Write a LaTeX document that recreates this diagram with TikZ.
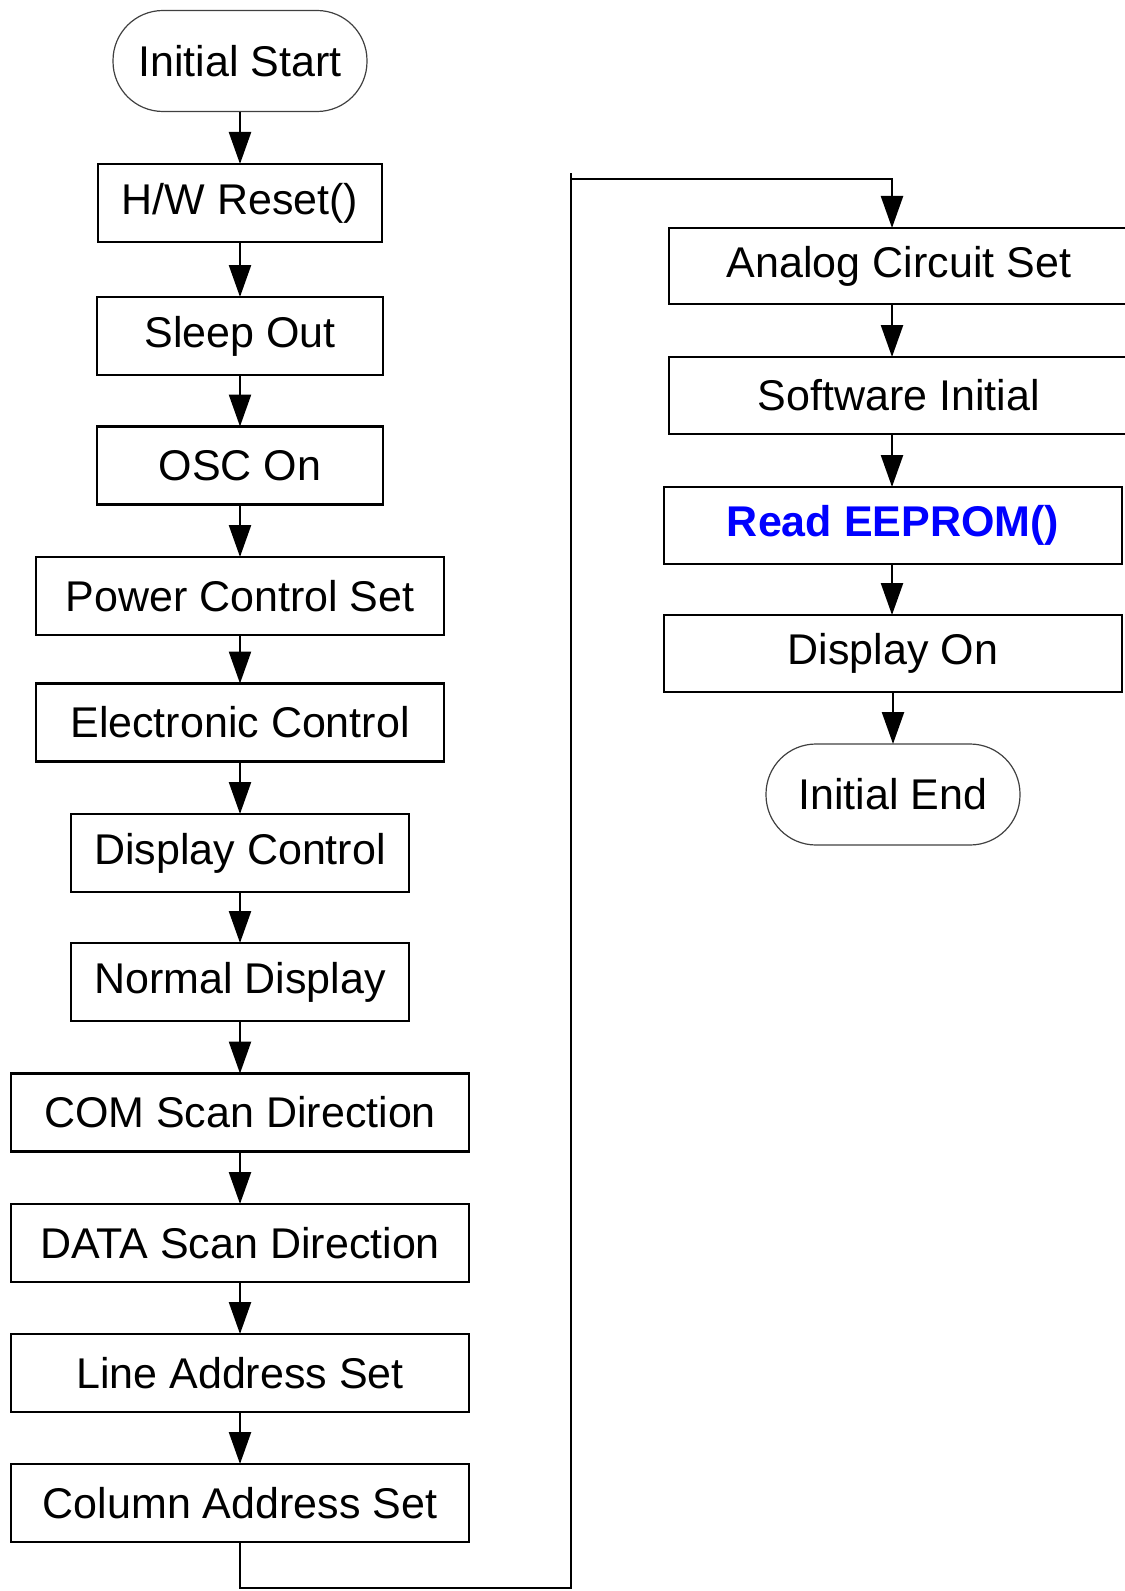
\documentclass[tikz,border=0pt]{standalone}
\usepackage{fontspec}
\setmainfont{Liberation Sans}
\usetikzlibrary{arrows.meta}
\begin{document}
\begin{tikzpicture}[x=1bp,y=-1bp,
  txt/.style={font=\fontsize{43bp}{50bp}\selectfont},
  box/.style={txt, draw, line width=2.4bp, inner sep=0pt, outer sep=0pt, minimum height=78bp},
  term/.style={txt, draw=black!75, line width=1.2bp, rounded corners=50bp, inner sep=0pt, outer sep=0pt, minimum width=254bp, minimum height=101bp},
  conn/.style={line width=2.4bp},
  arr/.style={conn, -{Triangle[length=32bp,width=22bp]}}
]
\useasboundingbox (0,0) rectangle (1124,1591);
% left column
\node[term] (start) at (240,61) {Initial Start};
\node[box, minimum width=284bp] (hw) at (240,203) {H/W Reset()};
\node[box, minimum width=286bp] (sleep) at (240,336) {Sleep Out};
\node[box, minimum width=286bp] (osc) at (240,465.5) {OSC On};
\node[box, minimum width=408bp] (pwr) at (240,596) {Power Control Set};
\node[box, minimum width=408bp] (elec) at (240,722.5) {Electronic Control};
\node[box, minimum width=338bp] (dctl) at (240,853) {Display Control};
\node[box, minimum width=338bp] (norm) at (240,982) {Normal Display};
\node[box, minimum width=458bp] (com) at (240,1112.5) {COM Scan Direction};
\node[box, minimum width=458bp] (data) at (240,1243) {DATA Scan Direction};
\node[box, minimum width=458bp] (line) at (240,1373) {Line Address Set};
\node[box, minimum width=458bp] (col) at (240,1503) {Column Address Set};
% right column
\coordinate (rc) at (892,0);
\node[box, minimum width=460bp, minimum height=76bp] (acs) at (899,266) {Analog Circuit Set};
\node[box, minimum width=460bp, minimum height=77bp] (sw) at (899,395.5) {Software Initial};
\node[box, minimum width=458bp, minimum height=77bp, text=blue, font=\fontsize{43bp}{50bp}\selectfont\bfseries] (eep) at (893,525.5) {Read EEPROM()};
\node[box, minimum width=458bp, minimum height=77bp] (don) at (893,653.5) {Display On};
\node[term] (end) at (893,794.5) {Initial End};
% connectors left
\draw[arr] (start) -- (hw);
\draw[arr] (hw) -- (sleep);
\draw[arr] (sleep) -- (osc);
\draw[arr] (osc) -- (pwr);
\draw[arr] (pwr) -- (elec);
\draw[arr] (elec) -- (dctl);
\draw[arr] (dctl) -- (norm);
\draw[arr] (norm) -- (com);
\draw[arr] (com) -- (data);
\draw[arr] (data) -- (line);
\draw[arr] (line) -- (col);
% transfer
\coordinate (c1) at (571,1588);
\coordinate (c2) at (571,173);
\coordinate (c3) at (571,179);
\draw[conn] (col.south) |- (c1) -- (c2);
\draw[arr] (c3) -| (acs.north -| rc);
% connectors right
\draw[arr] (acs.south -| rc) -- (sw.north -| rc);
\draw[arr] (sw.south -| rc) -- (eep.north -| rc);
\draw[arr] (eep.south -| rc) -- (don.north -| rc);
\draw[arr] (don) -- (end);
\end{tikzpicture}
\end{document}
